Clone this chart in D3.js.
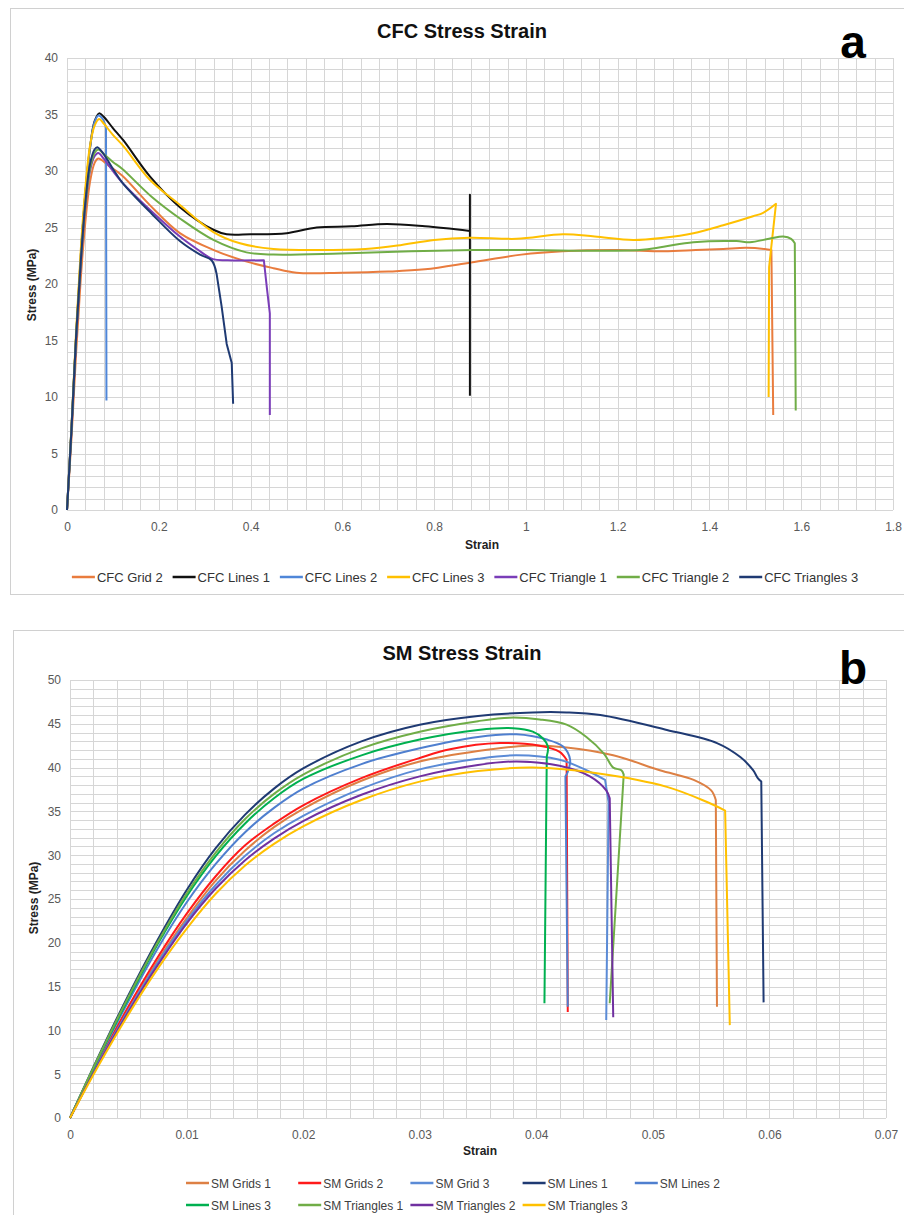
<!DOCTYPE html>
<html>
<head>
<meta charset="utf-8">
<script src="https://cdn.jsdelivr.net/npm/d3@7"></script>
<style>
  body { margin: 0; background: #fff; }
  text { font-family: Arial, "Liberation Sans", sans-serif; }
</style>
</head>
<body>
<div id="chart"></div>
<script>
// ---- Data (strain, stress MPa) ----

// a) CFC
let cfcNames = ["CFC Grid 2", "CFC Lines 1", "CFC Lines 2", "CFC Lines 3", "CFC Triangle 1", "CFC Triangle 2", "CFC Triangles 3"];
let cfcXTicks = [0, 0.2, 0.4, 0.6, 0.8, 1, 1.2, 1.4, 1.6, 1.8];
let cfcYTicks = [0, 5, 10, 15, 20, 25, 30, 35, 40];

let cfcGrid2 = [[0,0],[0.01,6.5],[0.02,14],[0.03,20.5],[0.04,25.5],[0.05,29],[0.06,30.7],[0.068,31.1],[0.09,30.5],[0.12,29.6],
  [0.18,27.0],[0.246,24.5],[0.32,23.0],[0.39,22.0],[0.45,21.4],[0.5,21.0],[0.6,21.0],[0.7,21.1],[0.78,21.3],[0.88,21.9],
  [0.99,22.6],[1.08,22.9],[1.2,23.0],[1.3,22.9],[1.37,23.0],[1.43,23.1],[1.48,23.2],[1.52,23.1],[1.535,23.0],[1.539,8.4]];
let cfcLines1 = [[0,0],[0.01,7.5],[0.02,15.5],[0.03,22.5],[0.04,28],[0.05,32],[0.06,34.4],[0.07,35.1],[0.08,34.8],[0.1,33.8],
  [0.123,32.7],[0.181,29.5],[0.246,26.8],[0.319,24.8],[0.348,24.4],[0.4,24.4],[0.479,24.5],[0.544,25.0],[0.62,25.1],
  [0.697,25.3],[0.78,25.1],[0.878,24.7],[0.878,27.9],[0.878,10.1]];
let cfcLines2 = [[0,0],[0.01,7.5],[0.02,15.5],[0.03,22.5],[0.04,28],[0.05,32],[0.06,34.3],[0.068,34.9],[0.078,34.6],[0.085,33.8],[0.086,9.7]];
let cfcLines3 = [[0,0],[0.01,7.5],[0.02,16],[0.03,23],[0.04,28.5],[0.05,32.2],[0.06,34],[0.07,34.6],[0.08,34.2],[0.1,33.2],
  [0.123,32.2],[0.181,29.2],[0.246,27.0],[0.319,24.6],[0.377,23.6],[0.45,23.1],[0.55,23.0],[0.65,23.1],[0.72,23.4],[0.8,23.9],
  [0.878,24.1],[0.98,24.0],[1.081,24.4],[1.15,24.2],[1.234,23.9],[1.3,24.1],[1.365,24.5],[1.43,25.2],[1.495,26.0],[1.517,26.3],
  [1.545,27.1],[1.530,21.5],[1.529,10.0]];
let cfcTriangle1 = [[0,0],[0.01,7.2],[0.02,15.2],[0.03,21.8],[0.04,26.8],[0.05,30],[0.06,31.3],[0.068,31.6],[0.08,31.1],[0.1,30.0],
  [0.12,29.0],[0.18,26.6],[0.246,24.2],[0.283,23.1],[0.318,22.2],[0.35,22.1],[0.429,22.1],[0.436,19.5],[0.442,17.4],[0.442,8.4]];
let cfcTriangle2 = [[0,0],[0.01,7.3],[0.02,15.5],[0.03,22],[0.04,27],[0.05,30.2],[0.06,31.6],[0.068,31.9],[0.08,31.5],[0.1,30.8],
  [0.12,30.2],[0.185,27.7],[0.246,25.8],[0.319,23.9],[0.391,22.8],[0.45,22.6],[0.595,22.7],[0.75,22.9],[0.885,23.0],[1.0,23.0],
  [1.248,23.0],[1.3,23.3],[1.365,23.7],[1.459,23.8],[1.488,23.7],[1.53,24.0],[1.561,24.2],[1.578,24.0],[1.586,23.6],[1.588,8.8]];
let cfcTriangles3 = [[0,0],[0.01,7.3],[0.02,15.5],[0.03,22],[0.04,27.2],[0.05,30.6],[0.06,31.9],[0.066,32.1],[0.08,31.5],[0.1,30.2],
  [0.12,29.0],[0.185,26.2],[0.246,23.8],[0.29,22.6],[0.315,22.1],[0.326,20.9],[0.337,18.0],[0.348,14.7],[0.359,13.0],[0.362,9.4]];

// b) SM
let smNames = ["SM Grids 1", "SM Grids 2", "SM Grid 3", "SM Lines 1", "SM Lines 2", "SM Lines 3", "SM Triangles 1", "SM Triangles 2", "SM Triangles 3"];
let smXTicks = [0, 0.01, 0.02, 0.03, 0.04, 0.05, 0.06, 0.07];
let smYTicks = [0, 5, 10, 15, 20, 25, 30, 35, 40, 45, 50];

let smGrids1 = [[0,0],[0.0025,6.4],[0.005,12.4],[0.0075,17.9],[0.01,22.8],[0.0125,27.1],[0.015,30.5],[0.0175,33.2],[0.02,35.3],
  [0.025,38.5],[0.03,40.7],[0.035,41.9],[0.0392,42.5],[0.0426,42.3],[0.0466,41.4],[0.0506,39.7],[0.0535,38.6],[0.0550,37.4],
  [0.0554,36.3],[0.0555,12.7]];
let smGrids2 = [[0,0],[0.0025,6.6],[0.005,12.7],[0.0075,18.3],[0.01,23.3],[0.0125,27.6],[0.015,31.1],[0.0175,33.6],[0.02,35.7],
  [0.025,38.8],[0.03,41.1],[0.0326,42.1],[0.0369,42.8],[0.0403,42.5],[0.0420,41.8],[0.0426,40.9],[0.0427,12.1]];
let smGrid3 = [[0,0],[0.0025,6.4],[0.005,12.3],[0.0075,17.7],[0.01,22.5],[0.0125,26.6],[0.015,29.9],[0.0175,32.5],[0.02,34.5],
  [0.025,37.6],[0.03,39.8],[0.035,41.0],[0.0383,41.4],[0.0420,40.9],[0.0443,39.7],[0.0459,38.6],[0.0462,36.1],[0.0460,11.2]];
let smLines1 = [[0,0],[0.0025,7.2],[0.005,14.0],[0.0075,20.3],[0.01,26.0],[0.0125,30.8],[0.015,34.6],[0.0175,37.6],[0.02,39.9],
  [0.025,43.0],[0.03,44.9],[0.035,45.9],[0.0397,46.3],[0.0426,46.3],[0.0455,46.0],[0.0512,44.3],[0.0555,42.8],[0.0575,41.2],
  [0.0586,39.7],[0.0590,38.8],[0.0593,38.4],[0.0595,13.2]];
let smLines2 = [[0,0],[0.0025,6.9],[0.005,13.3],[0.0075,19.3],[0.01,24.6],[0.0125,29.0],[0.015,32.6],[0.0175,35.4],[0.02,37.6],
  [0.025,40.4],[0.03,42.2],[0.035,43.5],[0.0383,43.8],[0.0409,43.2],[0.0423,42.4],[0.0429,40.9],[0.0427,39.5],[0.0425,39.0],
  [0.0427,12.7]];
let smLines3 = [[0,0],[0.0025,7.0],[0.005,13.6],[0.0075,19.8],[0.01,25.3],[0.0125,29.9],[0.015,33.6],[0.0175,36.5],[0.02,38.7],
  [0.025,41.4],[0.03,43.2],[0.035,44.3],[0.0380,44.5],[0.0397,44.1],[0.0406,43.3],[0.0410,42.4],[0.0409,41.3],[0.0407,13.1]];
let smTriangles1 = [[0,0],[0.0025,7.1],[0.005,13.8],[0.0075,20.0],[0.01,25.6],[0.0125,30.3],[0.015,34.1],[0.0175,37.0],[0.02,39.2],
  [0.025,42.2],[0.03,44.1],[0.035,45.3],[0.0377,45.7],[0.0403,45.5],[0.0426,44.9],[0.0443,43.5],[0.0458,41.6],[0.0466,40.0],
  [0.0473,39.7],[0.0475,39.2],[0.0463,13.1]];
let smTriangles2 = [[0,0],[0.0025,6.3],[0.005,12.1],[0.0075,17.4],[0.01,22.2],[0.0125,26.2],[0.015,29.4],[0.0175,31.9],[0.02,33.9],
  [0.025,36.9],[0.03,39.0],[0.035,40.3],[0.0383,40.7],[0.0420,40.2],[0.0446,39.0],[0.0460,37.4],[0.0463,36.5],[0.0466,11.5]];
let smTriangles3 = [[0,0],[0.0025,6.1],[0.005,11.8],[0.0075,17.0],[0.01,21.6],[0.0125,25.6],[0.015,28.8],[0.0175,31.3],[0.02,33.3],
  [0.025,36.3],[0.03,38.4],[0.035,39.6],[0.0397,40.0],[0.0455,39.3],[0.0512,37.8],[0.0546,36.1],[0.0562,35.1],[0.0566,10.6]];

// ---- Styles ----
let cfcColors = ["#e97c3e", "#111111", "#4f86d8", "#ffc000", "#7a3db8", "#70ad47", "#1f3a73"];
let smColors = ["#dd8044", "#ff1a1a", "#5b8bd6", "#1f3a73", "#4f7fcf", "#00b050", "#70ad47", "#7030a0", "#ffc000"];

let cfcValues = [cfcGrid2, cfcLines1, cfcLines2, cfcLines3, cfcTriangle1, cfcTriangle2, cfcTriangles3];
let smValues = [smGrids1, smGrids2, smGrid3, smLines1, smLines2, smLines3, smTriangles1, smTriangles2, smTriangles3];

let svg = d3.select("#chart").append("svg").attr("width", 904).attr("height", 1215);
svg.append("rect").attr("width", 904).attr("height", 1215).attr("fill", "#fff");

let fmt = d3.format("~g");

let drawChart = conf => {
  let g = svg.append("g");

  // border
  g.append("rect")
    .attr("x", conf.box[0] + 0.5).attr("y", conf.box[1] + 0.5)
    .attr("width", conf.box[2]).attr("height", conf.box[3])
    .attr("fill", "none").attr("stroke", "#d0d0d0");

  let x = d3.scaleLinear().domain(conf.xDomain).range([conf.left, conf.right]);
  let y = d3.scaleLinear().domain(conf.yDomain).range([conf.bottom, conf.top]);

  // gridlines
  let grid = g.append("g");
  d3.range(conf.xDomain[0], conf.xDomain[1] + conf.xStep / 2, conf.xStep).forEach(v => {
    grid.append("line")
      .attr("x1", Math.round(x(v)) + 0.5).attr("x2", Math.round(x(v)) + 0.5)
      .attr("y1", conf.top).attr("y2", conf.bottom)
      .attr("stroke", "#d6d6d6");
  });
  d3.range(conf.yDomain[0], conf.yDomain[1] + conf.yStep / 2, conf.yStep).forEach(v => {
    grid.append("line")
      .attr("x1", conf.left).attr("x2", conf.right)
      .attr("y1", Math.round(y(v)) + 0.5).attr("y2", Math.round(y(v)) + 0.5)
      .attr("stroke", "#d6d6d6");
  });

  // axes
  let xAxis = g.append("g")
    .attr("transform", `translate(0, ${conf.bottom})`)
    .call(d3.axisBottom(x).tickValues(conf.xTicks).tickSize(0).tickPadding(12).tickFormat(fmt));
  let yAxis = g.append("g")
    .attr("transform", `translate(${conf.left}, 0)`)
    .call(d3.axisLeft(y).tickValues(conf.yTicks).tickSize(0).tickPadding(9).tickFormat(fmt));
  [xAxis, yAxis].forEach(a => {
    a.select(".domain").remove();
    a.selectAll("text").attr("font-size", 12).attr("fill", "#595959").attr("font-family", "Arial, 'Liberation Sans', sans-serif");
  });

  // titles
  g.append("text")
    .attr("x", conf.titleX).attr("y", conf.titleY)
    .attr("text-anchor", "middle").attr("font-size", 20).attr("font-weight", "bold").attr("fill", "#111")
    .text(conf.title);
  g.append("text")
    .attr("x", 853).attr("y", conf.letterY)
    .attr("text-anchor", "middle").attr("font-size", 46).attr("font-weight", "bold").attr("fill", "#000")
    .text(conf.letter);
  g.append("text")
    .attr("x", (conf.left + conf.right) / 2 + 2).attr("y", conf.xLabelY)
    .attr("text-anchor", "middle").attr("font-size", 12).attr("font-weight", "bold").attr("fill", "#222")
    .text("Strain");
  g.append("text")
    .attr("transform", `translate(${conf.yLabelX}, ${conf.yLabelCy}) rotate(-90)`)
    .attr("text-anchor", "middle").attr("font-size", 12).attr("font-weight", "bold").attr("fill", "#222")
    .text("Stress (MPa)");

  // series: smooth part, then the fracture drop drawn straight
  let smooth = d3.line().x(d => x(d[0])).y(d => y(d[1])).curve(d3.curveCatmullRom.alpha(0.5));
  let straight = d3.line().x(d => x(d[0])).y(d => y(d[1]));

  let splitAt = pts => {
    for (let i = 1; i < pts.length; i++) {
      let dx = Math.abs(x(pts[i][0]) - x(pts[i - 1][0]));
      let dy = y(pts[i][1]) - y(pts[i - 1][1]); // > 0 means stress drops
      if (dy > 20 && dy > 3 * dx) return i - 1;
      if (dx < 2 && Math.abs(dy) > 12) return i - 1;
    }
    return pts.length - 1;
  };

  let seriesG = g.append("g");
  conf.values.forEach((pts, i) => {
    let k = splitAt(pts);
    let d = smooth(pts.slice(0, k + 1));
    if (k < pts.length - 1) d += straight(pts.slice(k)).replace(/^M/, "L");
    seriesG.append("path")
      .attr("d", d)
      .attr("fill", "none")
      .attr("stroke", conf.colors[i])
      .attr("stroke-width", 2)
      .attr("stroke-linejoin", "round");
  });

  // legend
  let legend = g.append("g");
  conf.names.forEach((name, i) => {
    let item = legend.append("g");
    item.append("line")
      .attr("x1", 0).attr("x2", 23).attr("y1", 0).attr("y2", 0)
      .attr("stroke", conf.colors[i]).attr("stroke-width", 2.5);
    item.append("text")
      .attr("x", 25).attr("y", 4.5)
      .attr("font-size", conf.legendFont).attr("fill", conf.legendFill)
      .text(name);
  });
  conf.placeLegend(legend.selectAll(":scope > g"));
};

// a) flow legend in one centred row
let placeRow = (items, cx, cy) => {
  let widths = [];
  items.each(function () {
    widths.push(25 + d3.select(this).select("text").node().getComputedTextLength());
  });
  let gap = 10;
  let total = d3.sum(widths) + gap * (widths.length - 1);
  let pos = cx - total / 2;
  items.each(function (d, i) {
    d3.select(this).attr("transform", `translate(${pos}, ${cy})`);
    pos += widths[i] + gap;
  });
};

drawChart({
  box: [10, 8, 900, 586],
  xDomain: [0, 1.8], yDomain: [0, 40],
  left: 67, right: 893, top: 58, bottom: 510,
  xStep: 0.04, yStep: 1,
  xTicks: cfcXTicks, yTicks: cfcYTicks,
  title: "CFC Stress Strain", titleX: 462, titleY: 38,
  letter: "a", letterY: 58,
  xLabelY: 549, yLabelX: 36, yLabelCy: 285,
  values: cfcValues, colors: cfcColors, names: cfcNames,
  legendFont: 13, legendFill: "#333",
  placeLegend: items => placeRow(items, 465, 577)
});

drawChart({
  box: [13, 630, 900, 600],
  xDomain: [0, 0.07], yDomain: [0, 50],
  left: 70, right: 886, top: 680, bottom: 1118,
  xStep: 0.002, yStep: 1,
  xTicks: smXTicks, yTicks: smYTicks,
  title: "SM Stress Strain", titleX: 462, titleY: 660,
  letter: "b", letterY: 684,
  xLabelY: 1155, yLabelX: 38, yLabelCy: 898,
  values: smValues, colors: smColors, names: smNames,
  legendFont: 12, legendFill: "#404040",
  placeLegend: items => items.attr("transform", (d, i) =>
    `translate(${186 + (i % 5) * 112.2}, ${i < 5 ? 1183 : 1205})`)
});
</script>
</body>
</html>
